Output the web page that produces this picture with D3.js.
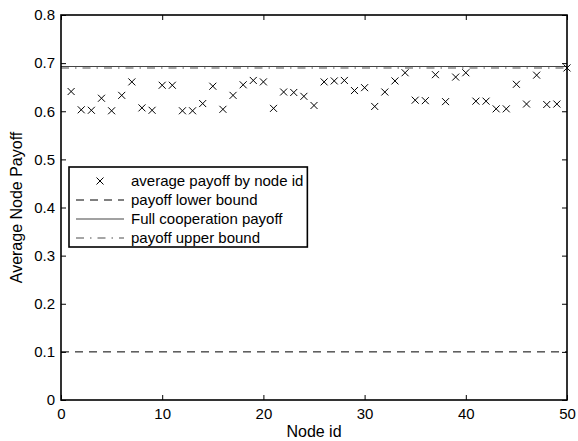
<!DOCTYPE html>
<html>
<head>
<meta charset="utf-8">
<script src="https://cdn.jsdelivr.net/npm/d3@7/dist/d3.min.js"></script>
<style>
  html, body { margin: 0; padding: 0; background: #fff; }
  svg { display: block; }
  text { font-family: "Liberation Sans", Arial, Helvetica, sans-serif; fill: #000; }
</style>
</head>
<body>
<svg id="chart" width="578" height="441"></svg>
<script>
// Average payoff per node (node ids 1..50)
const nodeIds = d3.range(1, 51);
const avgPayoff = [
  0.641, 0.603, 0.602, 0.627, 0.601, 0.633, 0.661, 0.607, 0.602, 0.654,
  0.654, 0.601, 0.601, 0.616, 0.652, 0.604, 0.633, 0.655, 0.664, 0.661,
  0.606, 0.640, 0.639, 0.631, 0.612, 0.661, 0.663, 0.664, 0.643, 0.649,
  0.610, 0.640, 0.663, 0.680, 0.623, 0.622, 0.676, 0.620, 0.671, 0.680,
  0.621, 0.621, 0.605, 0.605, 0.656, 0.615, 0.675, 0.614, 0.615, 0.690
];
// Reference levels
const lowerBound = 0.1;
const fullCooperation = 0.693;
const upperBound = 0.69;

const xTicks = [0, 10, 20, 30, 40, 50];
const yTicks = [0, 0.1, 0.2, 0.3, 0.4, 0.5, 0.6, 0.7, 0.8];
const legendLabels = [
  "average payoff by node id",
  "payoff lower bound",
  "Full cooperation payoff",
  "payoff upper bound"
];

const svg = d3.select("#chart");
const m = { left: 61, right: 567, top: 15, bottom: 400 };

const x = d3.scaleLinear().domain([0, 50]).range([m.left, m.right]);
const y = d3.scaleLinear().domain([0, 0.8]).range([m.bottom, m.top]);

const tickLen = 5;
const fontSize = 15;

// Axes with inward ticks on all four sides
const gB = svg.append("g").attr("transform", `translate(0,${m.bottom})`)
  .call(d3.axisBottom(x).tickValues(xTicks).tickFormat(d3.format("d")).tickSizeInner(-tickLen).tickSizeOuter(0).tickPadding(8));
const gT = svg.append("g").attr("transform", `translate(0,${m.top})`)
  .call(d3.axisTop(x).tickValues(xTicks).tickFormat("").tickSizeInner(-tickLen).tickSizeOuter(0));
const gL = svg.append("g").attr("transform", `translate(${m.left},0)`)
  .call(d3.axisLeft(y).tickValues(yTicks).tickFormat(d => d === 0 ? "0" : d3.format(".1f")(d)).tickSizeInner(-tickLen).tickSizeOuter(0).tickPadding(6));
const gR = svg.append("g").attr("transform", `translate(${m.right},0)`)
  .call(d3.axisRight(y).tickValues(yTicks).tickFormat("").tickSizeInner(-tickLen).tickSizeOuter(0));

[gB, gT, gL, gR].forEach(g => {
  g.attr("font-family", null);
  g.select(".domain").remove();
  g.selectAll(".tick line").attr("stroke", "#000").attr("stroke-width", 1);
  g.selectAll(".tick text").attr("font-size", fontSize).attr("fill", "#000");
});

// Reference lines
const styles = {
  lower: { color: "#000", width: 1, dash: "8,6" },
  full: { color: "#444", width: 1.2, dash: null },
  upper: { color: "#888", width: 1.6, dash: "8,6,1.5,6" }
};
const refLine = (val, s) => svg.append("line")
  .attr("x1", x(0)).attr("x2", x(50))
  .attr("y1", y(val)).attr("y2", y(val))
  .attr("stroke", s.color).attr("stroke-width", s.width)
  .attr("stroke-dasharray", s.dash);

refLine(lowerBound, styles.lower);
refLine(upperBound, styles.upper);
refLine(fullCooperation, styles.full);

// Data markers drawn as crosses
const ms = 3.5;
const cross = (cx, cy) =>
  `M${cx - ms},${cy - ms}L${cx + ms},${cy + ms}M${cx - ms},${cy + ms}L${cx + ms},${cy - ms}`;
svg.append("g").selectAll("path").data(nodeIds.map((id, i) => [id, avgPayoff[i]]))
  .join("path")
  .attr("d", d => cross(x(d[0]), y(d[1])))
  .attr("stroke", "#000").attr("stroke-width", 1).attr("fill", "none");

// Plot frame
svg.append("rect")
  .attr("x", m.left).attr("y", m.top)
  .attr("width", m.right - m.left).attr("height", m.bottom - m.top)
  .attr("fill", "none").attr("stroke", "#000").attr("stroke-width", 1.6);

// Axis titles
svg.append("text").attr("x", (m.left + m.right) / 2).attr("y", 437)
  .attr("text-anchor", "middle").attr("font-size", 16).text("Node id");
svg.append("text")
  .attr("transform", `translate(22,${(m.top + m.bottom) / 2}) rotate(-90)`)
  .attr("text-anchor", "middle").attr("font-size", 16).text("Average Node Payoff");

// Legend
const lg = { x: 69, y: 167, h: 80, row: 19 };
const legend = svg.append("g");
const box = legend.append("rect").attr("x", lg.x).attr("y", lg.y).attr("height", lg.h)
  .attr("fill", "#fff").attr("stroke", "#000").attr("stroke-width", 1.6);

const sx0 = lg.x + 7, sx1 = lg.x + 55, tx = lg.x + 62;
const legendStyles = [null, styles.lower, styles.full, styles.upper];
let maxRight = 0;
legendLabels.forEach((lab, i) => {
  const ry = lg.y + 14 + i * lg.row;
  if (i === 0) {
    legend.append("path").attr("d", cross((sx0 + sx1) / 2, ry))
      .attr("stroke", "#000").attr("stroke-width", 1);
  } else {
    const s = legendStyles[i];
    legend.append("line").attr("x1", sx0).attr("x2", sx1).attr("y1", ry).attr("y2", ry)
      .attr("stroke", s.color).attr("stroke-width", s.width).attr("stroke-dasharray", s.dash);
  }
  const t = legend.append("text").attr("x", tx).attr("y", ry + 5).attr("font-size", 15).text(lab);
  maxRight = Math.max(maxRight, tx + t.node().getComputedTextLength());
});
box.attr("width", maxRight + 4 - lg.x);
</script>
</body>
</html>
